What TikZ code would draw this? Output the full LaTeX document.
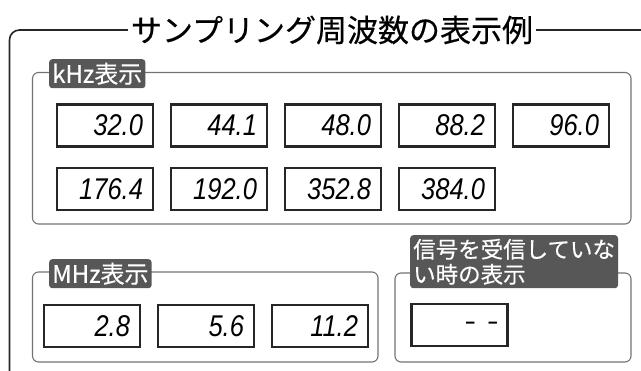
\documentclass[tikz,border=0pt]{standalone}
\usepackage{fontspec}
\setmainfont{Noto Sans CJK JP}
\newfontfamily\tagfont{Noto Sans CJK JP}[FakeBold=0.4]
\newfontfamily\segfont{Liberation Sans}[FakeStretch=0.85]
\usetikzlibrary{positioning}

\tikzset{
  panel/.style={draw=black!55, line width=1.1pt, rounded corners=6pt},
  tag/.style={fill=black!66, text=white, rounded corners=3pt, inner xsep=3pt, inner ysep=0pt, minimum height=29pt, font=\tagfont\fontsize{24}{25}\selectfont},
  lcd/.style={draw=black!85, line width=2.2pt, fill=white, minimum height=42pt, text width=76pt, inner xsep=10pt, inner ysep=0pt, align=right, font=\segfont\itshape\fontsize{30}{30}\selectfont},
}

\begin{document}
\begin{tikzpicture}[x=1pt,y=-1pt]
\useasboundingbox (0,0) rectangle (641,371);
\clip (0,0) rectangle (641,371);
% outer frame and title
\draw[line width=1.6pt, black!85, rounded corners=10pt] (660,30) -- (9.5,30) -- (9.5,385) -- (40,385);
\node[fill=white, inner xsep=3pt, font=\tagfont\fontsize{31}{32}\selectfont] (title) at (332,30) {サンプリング周波数の表示例};

% kHz
\draw[panel] (32.5,72.5) rectangle (631,224);
\node[tag, anchor=north west] (khz) at (49,59) {kHz表示};
\foreach \v [count=\i] in {32.0,44.1,48.0,88.2,96.0}
  \node[lcd] (k\i) at ({105+114*(\i-1)},125.5) {\v};
\foreach \v [count=\i] in {176.4,192.0,352.8,384.0}
  \node[lcd] (r\i) at ({105+114*(\i-1)},189) {\v};

% MHz
\draw[panel] (32.5,272) rectangle (378,362);
\node[tag, anchor=north west] (mhz) at (49,259) {MHz表示};
\foreach \v [count=\i] in {2.8,5.6,11.2}
  \node[lcd] (m\i) at ({92+114*(\i-1)},326) {\v};

% no signal
\draw[panel] (395,273) rectangle (631,362);
\node[tag, anchor=north west, align=left, minimum height=53pt, font=\tagfont\fontsize{22.5}{25}\selectfont] (nosig) at (410,235) {信号を受信していな\\い時の表示};
\node[lcd, font=\segfont\bfseries\fontsize{20}{20}\selectfont] (dash) at (459.5,325) {–\hspace{13pt}–};
\end{tikzpicture}
\end{document}
